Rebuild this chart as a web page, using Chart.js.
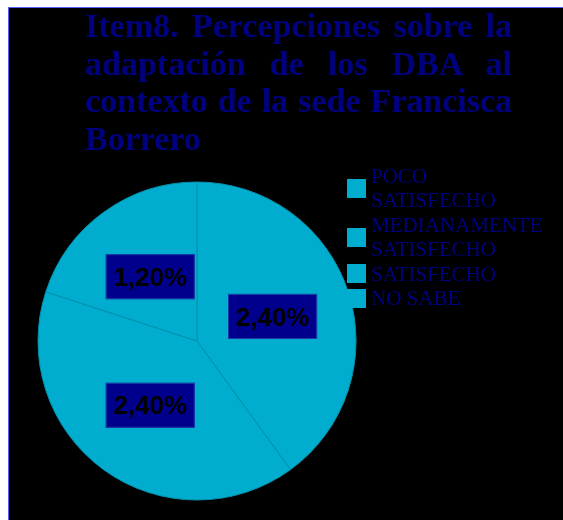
<!DOCTYPE html>
<html>
<head>
<meta charset="utf-8">
<script src="https://cdn.jsdelivr.net/npm/chart.js@4.4.0/dist/chart.umd.min.js"></script>
<style>
  html, body { margin: 0; padding: 0; background: #fff; }
  #marco {
    position: absolute; left: 8px; top: 7px; width: 555px; height: 513px;
    background: #000; border-left: 1px solid #5b5bf5; border-top: 1px solid #5b5bf5;
  }
  #grafico { position: absolute; left: 0; top: 0; }
  #titulo {
    position: absolute; left: 85px; top: 7px; width: 427px;
    font: bold 34px "Liberation Serif", "Times New Roman", serif;
    line-height: 37.5px; color: #000080;
  }
  #titulo div { white-space: nowrap; text-align: justify; text-align-last: justify; }
  #titulo div:last-child { text-align-last: left; }
  #leyenda {
    position: absolute; left: 347px; top: 164px;
    font: 21px "Liberation Serif", "Times New Roman", serif;
    line-height: 24.4px; color: #000080;
  }
  .item { display: flex; align-items: center; }
  .cuadro { width: 19px; height: 19px; margin-right: 5px; flex: none; }
</style>
</head>
<body>
<div id="marco"></div>
<canvas id="grafico" width="563" height="520"></canvas>
<div id="titulo"></div>
<div id="leyenda"></div>
<script>
var titulo = ['Item8. Percepciones sobre la', 'adaptación de los DBA al', 'contexto de la sede Francisca', 'Borrero'];
var categorias = [['POCO', 'SATISFECHO'], ['MEDIANAMENTE', 'SATISFECHO'], ['SATISFECHO'], ['NO SABE']];
var valores = [2.4, 2.4, 1.2, 0];
var colores = ['#00adce', '#00adce', '#00adce', '#00adce'];

// titulo justificado, una linea por div
var tit = document.getElementById('titulo');
titulo.forEach(function(t) {
  var d = document.createElement('div');
  d.textContent = t;
  tit.appendChild(d);
});

// leyenda en html
var ley = document.getElementById('leyenda');
categorias.forEach(function(c, i) {
  var d = document.createElement('div');
  d.className = 'item';
  d.innerHTML = '<div class="cuadro" style="background:' + colores[i] + '"></div><div>' + c.join('<br>') + '</div>';
  ley.appendChild(d);
});

var etiquetas = {
  id: 'etiquetas',
  afterDatasetsDraw: function(chart) {
    var ctx = chart.ctx;
    var meta = chart.getDatasetMeta(0);
    ctx.save();
    meta.data.forEach(function(arc, i) {
      if (!valores[i]) return;
      var p = arc.getCenterPoint();
      var w = 89, h = 45;
      ctx.fillStyle = '#00008c';
      ctx.fillRect(p.x - w / 2, p.y - h / 2, w, h);
      ctx.strokeStyle = '#1c40a8';
      ctx.lineWidth = 1;
      ctx.strokeRect(p.x - w / 2 + 0.5, p.y - h / 2 + 0.5, w - 1, h - 1);
      ctx.fillStyle = '#000';
      ctx.font = 'bold 26px "Liberation Sans", Arial, sans-serif';
      ctx.textAlign = 'center';
      ctx.textBaseline = 'middle';
      ctx.fillText(valores[i].toFixed(2).replace('.', ',') + '%', p.x, p.y + 2);
    });
    ctx.restore();
  }
};

var grafico = new Chart(document.getElementById('grafico').getContext('2d'), {
  type: 'pie',
  data: {
    labels: categorias.map(function(c) { return c.join(' '); }),
    datasets: [{
      data: valores,
      backgroundColor: colores,
      borderColor: '#0092ad',
      borderWidth: 1
    }]
  },
  options: {
    responsive: false,
    animation: false,
    radius: 159,
    layout: { padding: { left: 0, right: 169, top: 162, bottom: 0 } },
    plugins: {
      legend: { display: false },
      title: { display: false },
      tooltip: { enabled: false }
    }
  },
  plugins: [etiquetas]
});
</script>
</body>
</html>
